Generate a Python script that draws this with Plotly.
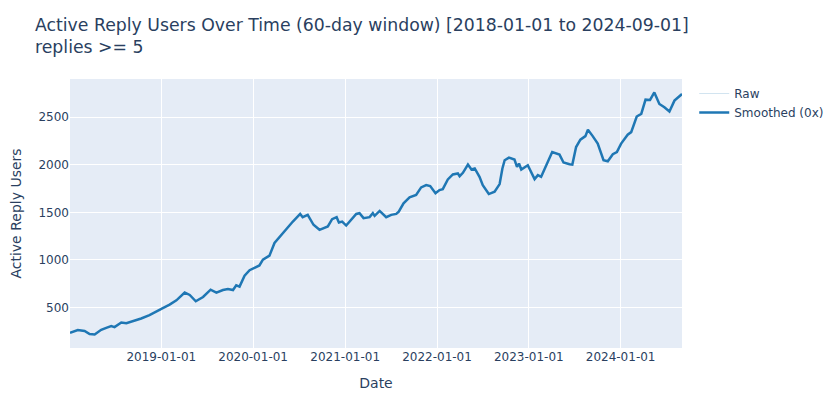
import plotly.graph_objects as go

dates = [
    "2018-01-03", "2018-02-03", "2018-03-02", "2018-03-22", "2018-04-11", "2018-05-07", "2018-05-27",
    "2018-06-16", "2018-06-29", "2018-07-26", "2018-08-15", "2018-09-17", "2018-10-13", "2018-11-15",
    "2018-12-12", "2019-01-07", "2019-02-03", "2019-03-02", "2019-04-04", "2019-04-24", "2019-05-18",
    "2019-06-16", "2019-07-16", "2019-08-08", "2019-09-03", "2019-09-23", "2019-10-13", "2019-10-26",
    "2019-11-08", "2019-11-28", "2019-12-18", "2020-01-07", "2020-01-26", "2020-02-09", "2020-03-06",
    "2020-03-26", "2020-04-15", "2020-05-12", "2020-06-07", "2020-07-06", "2020-07-16", "2020-08-05",
    "2020-08-28", "2020-09-21", "2020-10-24", "2020-11-10", "2020-11-28", "2020-12-07", "2020-12-20",
    "2021-01-05", "2021-02-14", "2021-02-27", "2021-03-15", "2021-04-08", "2021-04-21", "2021-04-28",
    "2021-05-18", "2021-06-13", "2021-07-03", "2021-07-23", "2021-08-02", "2021-08-21", "2021-09-14",
    "2021-10-10", "2021-10-30", "2021-11-19", "2021-12-05", "2021-12-26", "2022-01-11", "2022-01-24",
    "2022-02-13", "2022-03-05", "2022-03-25", "2022-04-01", "2022-04-14", "2022-05-04", "2022-05-18",
    "2022-05-31", "2022-06-19", "2022-07-02", "2022-07-26", "2022-08-18", "2022-09-07", "2022-09-18",
    "2022-09-27", "2022-10-14", "2022-11-05", "2022-11-15", "2022-11-23", "2022-12-02", "2022-12-28",
    "2023-01-24", "2023-02-06", "2023-02-19", "2023-03-11", "2023-04-04", "2023-05-03", "2023-05-19",
    "2023-06-12", "2023-06-23", "2023-07-08", "2023-07-25", "2023-08-14", "2023-08-24", "2023-09-12",
    "2023-10-02", "2023-10-25", "2023-11-11", "2023-12-01", "2023-12-17", "2024-01-03", "2024-01-29",
    "2024-02-12", "2024-03-05", "2024-03-23", "2024-04-09", "2024-04-27", "2024-05-14", "2024-06-03",
    "2024-06-23", "2024-07-13", "2024-08-02", "2024-09-01",
]

raw_users = [
    235, 263, 253, 221, 216, 266, 287,
    305, 294, 343, 336, 360, 385, 420,
    461, 493, 531, 576, 657, 632, 566,
    611, 688, 657, 684, 694, 684, 733,
    720, 835, 893, 921, 942, 1004, 1046,
    1179, 1241, 1335, 1404, 1484, 1450, 1474,
    1370, 1317, 1352, 1429, 1450, 1394, 1404,
    1362, 1484, 1492, 1440, 1450, 1492, 1464,
    1516, 1450, 1474, 1484, 1508, 1596, 1659,
    1683, 1763, 1787, 1777, 1701, 1735, 1745,
    1847, 1899, 1909, 1881, 1916, 2003, 1951,
    1962, 1874, 1787, 1693, 1717, 1798, 1962,
    2048, 2076, 2056, 1978, 2014, 1951, 1996,
    1850, 1892, 1874, 1996, 2135, 2108, 2024,
    2006, 2003, 2187, 2264, 2302, 2369, 2302,
    2223, 2048, 2038, 2111, 2135, 2223, 2317,
    2344, 2508, 2536, 2685, 2682, 2761, 2640,
    2605, 2560, 2675, 2745,
]

smoothed_users = list(raw_users)  # smoothing factor 0x -> identical to raw

fig = go.Figure()
fig.add_trace(go.Scatter(
    x=dates, y=raw_users, mode="lines", name="Raw",
    line=dict(color="#1f77b4", width=1), opacity=0.2,
))
fig.add_trace(go.Scatter(
    x=dates, y=smoothed_users, mode="lines", name="Smoothed (0x)",
    line=dict(color="#1f77b4", width=2.5),
))

fig.update_layout(
    template="plotly",
    width=831, height=399,
    font=dict(family="DejaVu Sans"),
    margin=dict(l=62, r=157, t=71, b=59, autoexpand=False),
    title=dict(
        text="Active Reply Users Over Time (60-day window) [2018-01-01 to 2024-09-01]<br>replies >= 5",
        x=0.0325, xanchor="left",
        y=0.9424, yanchor="top",
        font=dict(size=17.3),
    ),
    xaxis=dict(title=dict(text="Date"), tickformat="%Y-%m-%d", automargin=False),
    yaxis=dict(title=dict(text="Active Reply Users"), automargin=False),
)

fig.write_html("out.html")
